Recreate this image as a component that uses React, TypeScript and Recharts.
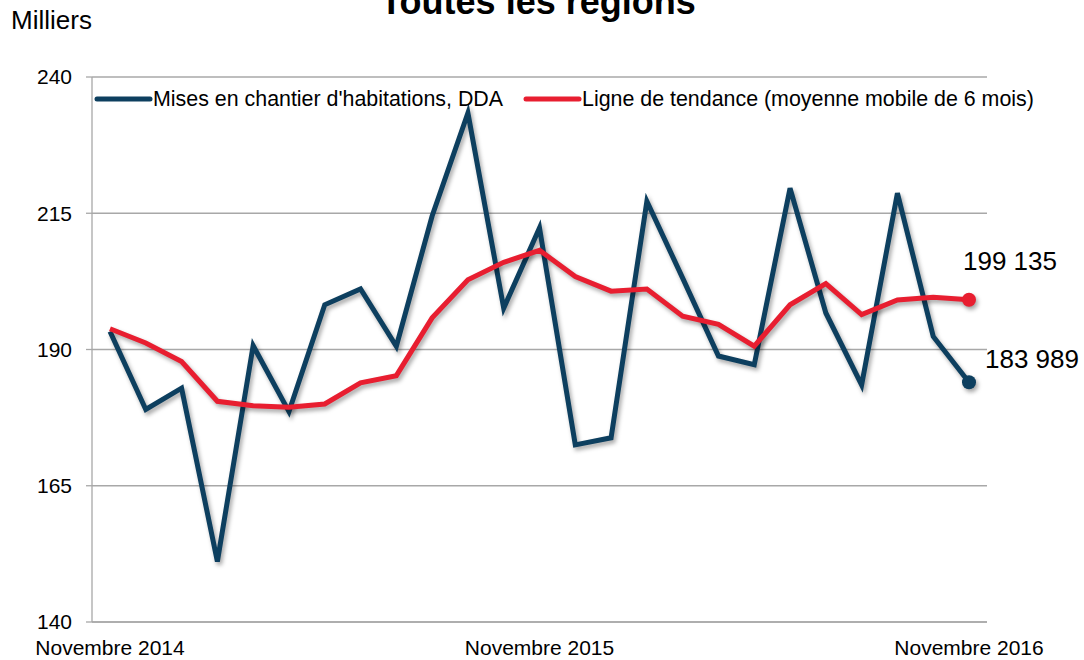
import React from 'react';
import { LineChart, Line, XAxis, YAxis, CartesianGrid, Legend } from 'recharts';

const months = [
  'nov. 2014', 'déc. 2014', 'janv. 2015', 'févr. 2015', 'mars 2015', 'avr. 2015',
  'mai 2015', 'juin 2015', 'juil. 2015', 'août 2015', 'sept. 2015', 'oct. 2015',
  'nov. 2015', 'déc. 2015', 'janv. 2016', 'févr. 2016', 'mars 2016', 'avr. 2016',
  'mai 2016', 'juin 2016', 'juil. 2016', 'août 2016', 'sept. 2016', 'oct. 2016',
  'nov. 2016',
];

const misesEnChantier = [
  193.3, 179.0, 182.9, 151.1, 190.7, 178.6, 198.2, 201.1, 190.6, 214.5, 233.4, 197.6,
  212.3, 172.5, 173.8, 217.2, 203.1, 188.8, 187.2, 219.6, 196.7, 183.5, 218.7, 192.4,
  183.989,
];

const tendance = [
  193.8, 191.2, 187.8, 180.5, 179.7, 179.4, 180.0, 183.9, 185.2, 195.8, 202.8, 206.0,
  208.2, 203.4, 200.7, 201.1, 196.1, 194.6, 190.6, 198.2, 202.1, 196.4, 199.1, 199.6,
  199.135,
];

const xTickLabels: Record<string, string> = {
  'nov. 2014': 'Novembre 2014',
  'nov. 2015': 'Novembre 2015',
  'nov. 2016': 'Novembre 2016',
};

const yTicks = [140, 165, 190, 215, 240];

const seriesNames = {
  mises: "Mises en chantier d'habitations, DDA",
  tendance: 'Ligne de tendance (moyenne mobile de 6 mois)',
};

const data = months.map((m, i) => ({
  month: m,
  mises: misesEnChantier[i],
  tendance: tendance[i],
}));

const BLUE = '#0D3F5F';
const RED = '#E81E30';
const GRID = '#A8A8A8';
const FONT = '"Liberation Sans", Arial, sans-serif';

const fmt = (v: number) => {
  const n = Math.round(v * 1000);
  const s = String(n);
  return s.slice(0, s.length - 3) + ' ' + s.slice(s.length - 3);
};

const lastIndex = months.length - 1;

const makeDot = (color: string, dx: number, dy: number) => (props: any) => {
  const { cx, cy, index, value } = props;
  if (index !== lastIndex) return <g key={`d-${index}`} />;
  return (
    <g key={`d-${index}`}>
      <circle className="end-dot" cx={cx} cy={cy} r={7} fill={color} stroke="none" />
      <text x={cx + dx} y={cy + dy} fontSize={26} fontFamily={FONT} fill="#000">
        {fmt(value)}
      </text>
    </g>
  );
};

const renderLegend = () => (
  <div style={{ position: 'relative', width: 900, height: 26, fontFamily: FONT, fontSize: 21.4, color: '#000' }}>
    <div style={{ position: 'absolute', left: 0, top: 0, display: 'flex', alignItems: 'center', whiteSpace: 'nowrap' }}>
      <svg width={59} height={26} style={{ display: 'block' }}>
        <line x1={3} y1={13} x2={56} y2={13} stroke={BLUE} strokeWidth={5} strokeLinecap="round" />
      </svg>
      <span style={{ lineHeight: '26px' }}>{seriesNames.mises}</span>
    </div>
    <div style={{ position: 'absolute', left: 429, top: 0, display: 'flex', alignItems: 'center', whiteSpace: 'nowrap' }}>
      <svg width={59} height={26} style={{ display: 'block' }}>
        <line x1={3} y1={13} x2={56} y2={13} stroke={RED} strokeWidth={5} strokeLinecap="round" />
      </svg>
      <span style={{ lineHeight: '26px' }}>{seriesNames.tendance}</span>
    </div>
  </div>
);

export default function App() {
  return (
    <div style={{ position: 'absolute', left: 0, top: 0, width: 1084, height: 660, background: '#fff' }}>
      <style>{`
        .recharts-line-curve { filter: drop-shadow(2px 3px 2px rgba(0,0,0,0.35)); }
        .end-dot { filter: drop-shadow(2px 3px 2px rgba(0,0,0,0.35)); }
      `}</style>
      <LineChart
        width={1084}
        height={660}
        data={data}
        margin={{ top: 77, right: 97, bottom: 8, left: 0 }}
      >
        <CartesianGrid horizontal vertical={false} stroke={GRID} strokeWidth={1.3} />
        <XAxis
          dataKey="month"
          interval={0}
          height={30}
          padding={{ left: 18, right: 18 }}
          tickLine={false}
          axisLine={{ stroke: GRID, strokeWidth: 1.3 }}
          tickMargin={12}
          tickFormatter={(v: string) => xTickLabels[v] || ''}
          tick={{ fontSize: 21, fontFamily: FONT, fill: '#000' }}
        />
        <YAxis
          width={92}
          domain={[140, 240]}
          ticks={yTicks}
          interval={0}
          tickSize={6}
          tickMargin={14}
          tickLine={{ stroke: GRID, strokeWidth: 1.3 }}
          axisLine={{ stroke: GRID, strokeWidth: 1.3 }}
          tick={{ fontSize: 21, fontFamily: FONT, fill: '#000' }}
        />
        <Legend
          layout="vertical"
          align="center"
          verticalAlign="middle"
          content={renderLegend}
          wrapperStyle={{ position: 'absolute', top: 86, left: 94, width: 900, height: 26 }}
        />
        <Line
          type="linear"
          dataKey="mises"
          name={seriesNames.mises}
          stroke={BLUE}
          strokeWidth={5}
          strokeLinejoin="miter"
          dot={makeDot(BLUE, 16, -14)}
          activeDot={false}
          isAnimationActive={false}
        />
        <Line
          type="linear"
          dataKey="tendance"
          name={seriesNames.tendance}
          stroke={RED}
          strokeWidth={5}
          dot={makeDot(RED, -6, -30)}
          activeDot={false}
          isAnimationActive={false}
        />
      </LineChart>
      <svg
        width={1084}
        height={660}
        style={{ position: 'absolute', left: 0, top: 0, pointerEvents: 'none' }}
      >
        <text x={538} y={14} textAnchor="middle" fontSize={36} fontWeight="bold" fontFamily={FONT} fill="#000">
          Toutes les régions
        </text>
        <text x={11} y={29} fontSize={26} fontFamily={FONT} fill="#000">
          Milliers
        </text>
      </svg>
    </div>
  );
}
